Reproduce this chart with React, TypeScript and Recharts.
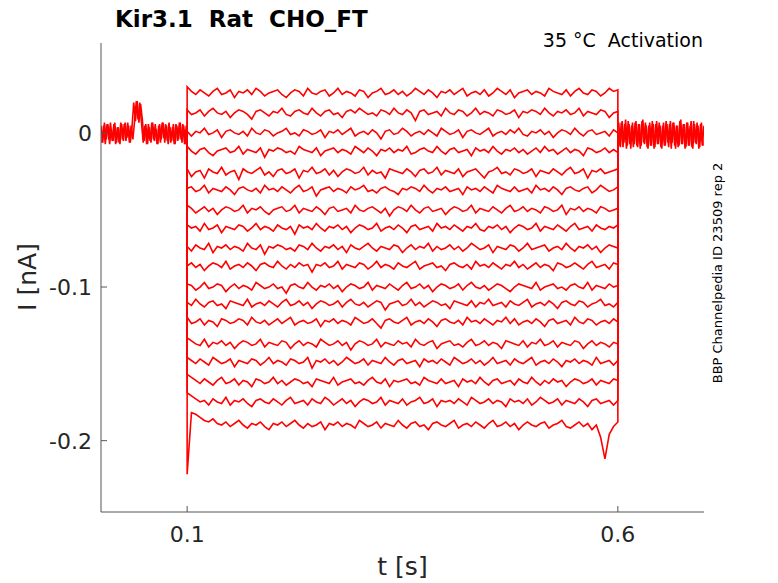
import React from 'react';
import { LineChart, Line, XAxis, YAxis } from 'recharts';

// sampling grids (s)
const preTimes = Array.from({ length: 51 }, (_, i) => +(i * 0.002).toFixed(3));
const preTimesB = Array.from({ length: 50 }, (_, i) => +(0.001 + i * 0.002).toFixed(3));
const postTimes = Array.from({ length: 51 }, (_, i) => +(0.6 + i * 0.002).toFixed(3));
const postTimesB = Array.from({ length: 50 }, (_, i) => +(0.601 + i * 0.002).toFixed(3));
const pulseTimes = Array.from({ length: 101 }, (_, i) => +(0.1 + i * 0.005).toFixed(3));

// holding current before the step (units of 0.001 nA), two overlapping sweeps
const preHold = [5, -6, 7, -4, 6, -7, 3, -5, 7, -6, 4, -7, 6, -5, 7, -3, 5, -6, 4, 20, 8, 21, 7, 19, 9, -5, 6, -7, 4, -6, 7, -5, 3, -7, 6, -4, 7, -6, 5, -7, 4, -5, 6, -7, 5, -4, 7, -6, 5, -7, 0];
const preHoldB = [-6, 5, -7, 6, -4, 7, -5, 6, -7, 4, -6, 7, -4, 6, -5, 7, -6, 5, -4, 8, 21, 9, 20, 7, -6, 5, -7, 6, -5, 7, -4, 6, -7, 5, -6, 7, -3, 6, -5, 7, -6, 4, -7, 6, -5, 7, -4, 6, -7, 5];
// holding current after the step (units of 0.001 nA), two overlapping sweeps
const postHold = [0, -8, 7, -9, 6, -10, 8, -7, 5, -9, 7, -8, 6, -10, 8, -6, 7, -9, 5, -8, 8, -10, 6, -7, 7, -9, 5, -8, 8, -6, 6, -10, 7, -8, 5, -9, 8, -7, 6, -10, 7, -8, 5, -9, 8, -6, 7, -10, 6, -8, 5];
const postHoldB = [7, -9, 8, -6, 9, -8, 6, -10, 7, -7, 8, -9, 6, -8, 9, -7, 5, -10, 7, -8, 6, -9, 8, -7, 5, -10, 7, -8, 6, -9, 8, -6, 7, -10, 5, -8, 9, -7, 6, -9, 7, -8, 8, -10, 6, -7, 5, -9, 7, -8];

// steady level of each step trace (nA)
const stepLevels = [0.0263, 0.0133, 0.0003, -0.0115, -0.0251, -0.0368, -0.0498, -0.0616, -0.0746, -0.0863, -0.1, -0.111, -0.1227, -0.137, -0.1488, -0.1618, -0.1748, -0.1898];

// fluctuation of each step trace around its level (units of 0.001 nA)
const stepNoise = [
  [4,1,-1,2,0,-2,1,3,-1,0,2,-3,1,0,2,-1,3,1,-2,0,1,2,-1,-3,0,2,1,-2,3,0,-1,1,2,-2,0,3,-1,1,0,-2,2,1,-3,0,1,3,-1,0,2,-1,1,-2,0,3,1,-1,2,0,-3,1,0,2,-1,1,3,-2,0,1,-1,2,-2,0,3,1,-1,2,-3,0,1,2,-1,1,0,-2,3,1,0,-1,2,-2,1,3,0,-1,2,1,-2,0,3,1,2],
  [2,-1,0,2,-2,1,3,0,-1,1,-3,0,2,1,-1,-4,1,2,0,-2,1,0,3,-1,-2,1,2,0,-1,3,0,-2,1,2,-1,0,-3,1,2,0,3,1,-1,0,-2,2,1,-1,3,0,-1,2,0,-5,1,2,-1,0,1,-2,3,0,-1,2,1,-2,0,3,-1,1,0,-2,2,1,-1,0,2,-3,1,0,2,1,-1,3,0,-2,1,0,2,-1,0,3,-2,1,0,-1,2,1,-3,0,1],
  [1,-2,1,0,3,-1,0,2,-3,1,2,0,-1,1,-2,3,0,-1,2,1,-2,0,1,3,-1,0,-2,2,1,-1,0,2,-3,1,0,2,-1,1,3,-2,0,1,-1,2,0,-4,1,2,-1,0,3,1,-2,0,1,-1,2,0,-2,3,1,-1,0,2,-3,1,2,0,-1,1,3,-2,0,1,-1,2,0,3,-1,-2,1,0,2,-1,1,-3,0,2,1,-1,3,0,-2,1,2,-1,0,1,-2,2,0],
  [3,0,-2,1,2,-1,-3,0,1,2,-1,0,3,-2,1,0,-1,2,-4,1,0,2,1,-1,0,-2,3,1,0,-1,2,-3,0,1,2,-1,1,0,-2,3,1,-1,2,0,-3,1,0,2,-1,1,0,3,-2,-1,1,2,0,-1,3,0,-2,1,2,-1,0,1,-3,2,0,1,-1,3,0,-2,1,0,2,-1,1,-2,0,2,-1,3,0,1,-2,0,2,-1,1,0,-3,2,1,-1,0,2,-1,1,-1],
  [2,-3,0,1,-4,2,0,-1,3,-2,0,1,-5,2,0,-1,1,3,-2,0,-3,1,2,-1,0,2,-4,1,0,3,-1,0,2,-2,1,-3,0,2,1,-1,0,3,-2,1,-1,0,-4,2,1,0,-1,2,0,-3,1,2,-1,0,3,-2,1,0,-1,2,-3,0,1,2,-1,-4,0,1,3,-1,0,-2,2,1,-1,0,2,-3,1,0,-1,2,0,-2,1,3,-1,0,2,-4,1,0,2,-1,0,1,2],
  [1,2,-1,0,3,-2,1,0,-1,2,0,-3,1,2,0,-1,1,-2,3,0,1,-1,2,0,-2,1,3,-1,0,2,-4,0,1,2,-1,1,0,-2,2,0,1,3,-1,0,-2,1,2,0,-1,-3,1,0,2,1,-1,3,0,-2,1,0,2,-1,0,1,-3,2,0,1,-1,2,0,-2,3,1,0,-1,2,-1,0,1,-2,3,0,1,-1,2,0,-3,1,2,0,-1,1,2,-2,0,3,1,-1,0,2],
  [3,1,-2,0,2,-1,1,-3,0,2,1,-1,0,3,-2,1,0,2,-1,-3,0,1,2,-1,0,3,-2,1,0,-1,2,0,-3,1,2,-1,0,1,-2,3,0,-1,1,2,0,-2,1,-4,0,2,1,-1,3,0,-2,1,2,-1,0,1,-3,0,2,1,-1,0,3,-2,1,0,-1,2,0,-2,1,3,-1,0,2,-1,1,0,-2,2,1,-1,0,3,-3,1,0,2,-1,1,0,-2,2,1,-1,0,1],
  [2,0,1,-2,3,-1,0,2,-3,1,0,-1,2,1,-2,0,3,-1,1,0,-2,2,0,-1,1,-4,2,0,1,-1,3,0,-2,1,0,2,-1,1,-3,0,2,1,-1,0,3,-2,0,1,-1,2,0,-3,1,2,-1,0,1,-2,3,0,1,-1,2,0,-2,1,0,3,-1,-2,1,0,2,-1,1,-3,0,2,1,-1,0,3,-2,1,0,-1,2,0,-2,1,3,-1,0,1,-2,2,0,-1,1,0,2],
  [1,-2,2,0,-1,3,-3,1,0,2,-1,1,0,-2,3,0,-1,2,-4,1,0,2,1,-1,0,-2,2,1,-1,3,0,-2,1,0,2,-1,1,-3,2,0,-1,1,3,0,-2,1,0,-1,2,1,-3,0,2,-1,1,0,3,-2,1,-1,0,2,-1,1,-2,0,3,1,-1,0,2,-3,1,0,-1,2,1,-2,0,3,-1,0,1,2,-2,0,1,-1,3,0,-2,1,0,2,-1,1,-3,0,2,1,0],
  [0,2,-1,1,-3,0,2,1,-1,3,-2,0,1,-1,2,0,-3,1,2,0,-1,3,0,-2,1,-1,2,0,1,-4,1,0,2,-1,0,3,-2,1,0,-1,2,1,-2,0,3,-1,1,0,-2,2,0,-1,1,3,-2,0,1,2,-1,0,-3,1,2,0,-1,1,-2,3,0,1,-1,2,0,-2,1,0,3,-1,1,-2,0,2,-1,1,0,-3,2,1,-1,0,2,0,-2,1,3,-1,0,1,-2,2,1],
  [2,1,-2,0,3,-1,0,2,1,-3,0,2,-1,1,0,-2,3,1,-1,0,2,-1,0,-4,1,2,0,-1,3,0,-2,1,0,2,-1,1,-3,0,2,1,-1,0,3,-2,1,0,-1,2,0,-2,1,3,-1,0,2,-1,1,-3,0,2,1,-1,0,2,-2,1,3,0,-1,1,-2,0,2,1,-1,-3,0,2,1,0,-1,3,-2,0,1,2,-1,0,-2,1,2,0,-1,3,-2,1,0,-1,2,0,1],
  [1,-1,3,0,-2,1,2,-1,0,-3,2,1,0,-1,3,-2,0,1,-1,2,0,-2,1,3,-1,0,2,-1,1,-3,0,2,1,-1,0,2,-2,1,3,0,-1,1,-2,0,2,1,-4,0,1,2,-1,0,3,-1,1,-2,0,2,1,-1,0,-3,2,1,0,-1,2,-2,1,0,3,-1,0,1,-2,2,0,-1,1,3,-2,0,1,-1,2,0,-3,1,2,0,-1,2,1,-2,0,1,3,-1,0,-2,1],
  [3,-1,0,2,-2,1,0,-3,2,1,-1,0,2,1,-2,3,0,-1,1,-2,0,2,-1,1,3,-2,0,1,-1,0,2,-3,1,0,2,-1,1,0,-2,3,1,-1,0,2,-1,-4,1,2,0,-1,1,3,-2,0,1,-1,2,0,-3,1,2,0,-1,1,-2,3,0,1,-1,2,0,-2,1,0,3,-1,2,-2,0,1,-1,2,0,-3,1,2,-1,0,1,-2,3,0,-1,2,1,-2,0,1,-1,2,0],
  [4,2,0,-1,3,-2,1,0,2,-1,1,-3,0,2,1,-1,0,3,-2,1,0,-1,2,1,-3,0,2,-1,1,0,-2,3,1,-1,0,2,-1,1,-4,0,2,1,-1,0,3,-2,1,0,-1,2,0,1,-2,3,0,-1,1,2,-3,0,1,2,-1,0,-2,1,3,-1,0,2,-1,1,0,-3,2,1,0,-1,2,-2,1,0,3,-1,0,2,-2,1,0,-1,2,1,-3,0,2,-1,1,0,-2,1,0],
  [3,1,-1,2,0,-2,3,1,-1,0,2,-3,1,0,-1,2,1,-2,0,3,-1,1,0,-2,2,1,-1,0,3,-4,1,0,2,-1,1,-2,0,3,1,-1,0,2,-2,1,0,-1,3,0,-2,1,2,-1,0,1,-3,2,0,1,-1,2,0,-2,3,1,-1,0,2,-1,1,-2,0,3,-1,0,1,-2,2,0,-1,1,3,-2,0,1,-1,2,0,-3,1,0,2,-1,1,0,-2,3,-1,0,1,-2,1],
  [5,3,1,-1,2,0,-2,1,3,-1,0,2,-2,1,0,-3,2,1,-1,0,3,-1,1,-2,0,2,1,-1,0,-3,2,1,0,-1,3,-2,0,1,2,-1,0,-2,1,3,0,-1,2,-3,1,0,1,2,-1,0,-2,3,1,0,-1,2,-1,0,1,-3,2,0,1,-1,3,0,-2,1,2,-1,0,1,-2,2,0,-1,3,0,-2,1,-1,2,0,1,-3,0,2,1,-1,0,2,-2,1,0,-1,2,1],
  [6,4,2,0,1,-2,2,0,-1,3,-2,1,0,2,-1,-3,1,2,0,-1,2,0,-2,1,3,-1,0,1,-2,2,0,-1,3,1,-2,0,2,-1,1,-3,0,2,1,-1,0,3,-2,1,0,-1,2,-2,0,1,3,-1,0,2,-3,1,0,1,-1,2,0,-2,3,1,-1,0,2,-1,1,0,-3,2,0,1,-1,2,-2,0,3,1,-1,0,2,-2,1,0,-1,2,0,-3,1,2,-1,0,1,-2,1],
  [-32,8,7,5,3,2,4,1,0,2,-1,1,3,0,-2,1,0,2,-1,-3,1,0,2,-1,1,3,0,-2,1,-1,0,2,-3,1,0,2,-1,1,0,-2,3,1,-1,0,2,-2,1,0,-1,3,0,-2,1,2,-1,0,-3,1,2,0,-1,1,3,-2,0,1,-1,2,0,-2,1,3,-1,0,2,-1,1,-3,0,2,0,-1,1,2,-2,0,1,3,-1,-2,0,2,-1,1,-3,0,-8,-22,-6,-1,2],
];

const xTicks = [0.1, 0.6];
const yTicks = [-0.2, -0.1, 0];

const toSeries = (times: number[], vals: number[]) => times.map((t, i) => ({ t, v: vals[i] / 1000 }));
const holdSeries = [
  toSeries(preTimes, preHold),
  toSeries(preTimesB, preHoldB),
  toSeries(postTimes, postHold),
  toSeries(postTimesB, postHoldB),
];
const traces = stepLevels.map((lvl, k) => [
  { t: 0.1, v: 0 },
  ...pulseTimes.map((t, i) => ({ t, v: lvl + stepNoise[k][i] / 1000 })),
  { t: 0.6, v: 0 },
]);

const FONT = 'DejaVu Sans, Verdana, sans-serif';
const RED = '#ff0000';

export default function App() {
  return (
    <div style={{ position: 'absolute', left: 0, top: 0, width: 778, height: 583, background: '#fff' }}>
      <LineChart width={778} height={583} margin={{ top: 43, right: 74, bottom: 0, left: 0 }}>
        <XAxis
          type="number"
          dataKey="t"
          domain={[0, 0.7]}
          allowDataOverflow
          ticks={xTicks}
          tickFormatter={(v: number) => String(v)}
          height={71}
          axisLine={{ stroke: '#555', strokeWidth: 1 }}
          tickLine={{ stroke: '#555', strokeWidth: 1 }}
          tickSize={-6}
          tickMargin={20}
          tick={{ fill: '#262626', fontSize: 22, fontFamily: FONT }}
        />
        <YAxis
          type="number"
          domain={[-0.2464, 0.0588]}
          allowDataOverflow
          ticks={yTicks}
          tickFormatter={(v: number) => (v === 0 ? '0' : String(v))}
          width={101}
          axisLine={{ stroke: '#555', strokeWidth: 1 }}
          tickLine={{ stroke: '#555', strokeWidth: 1 }}
          tickSize={-6}
          tickMargin={15}
          tick={{ fill: '#262626', fontSize: 22, fontFamily: FONT }}
        />
        {traces.map((d, k) => (
          <Line
            key={`s${k}`}
            data={d}
            dataKey="v"
            type="linear"
            stroke={RED}
            strokeWidth={1.6}
            dot={false}
            activeDot={false}
            isAnimationActive={false}
          />
        ))}
        {holdSeries.map((d, k) => (
          <Line
            key={`h${k}`}
            data={d}
            dataKey="v"
            type="linear"
            stroke={RED}
            strokeWidth={1.6}
            dot={false}
            activeDot={false}
            isAnimationActive={false}
          />
        ))}
      </LineChart>
      <svg width={778} height={583} style={{ position: 'absolute', left: 0, top: 0, pointerEvents: 'none' }}>
        <text x={115} y={27} fontFamily={FONT} fontSize={23} fontWeight="bold" fill="#000" xmlSpace="preserve" style={{ whiteSpace: 'pre' }}>
          {'Kir3.1  Rat  CHO_FT'}
        </text>
        <text x={703} y={47} textAnchor="end" fontFamily={FONT} fontSize={19} fill="#000" xmlSpace="preserve" style={{ whiteSpace: 'pre' }}>
          {'35 °C  Activation'}
        </text>
        <text transform="translate(36,277) rotate(-90)" textAnchor="middle" fontFamily={FONT} fontSize={25} fill="#262626">
          I [nA]
        </text>
        <text x={402.5} y={575} textAnchor="middle" fontFamily={FONT} fontSize={25} fill="#262626">
          t [s]
        </text>
        <text transform="translate(722,273) rotate(-90)" textAnchor="middle" fontFamily={FONT} fontSize={13} fill="#000">
          BBP Channelpedia ID 23509 rep 2
        </text>
      </svg>
    </div>
  );
}
